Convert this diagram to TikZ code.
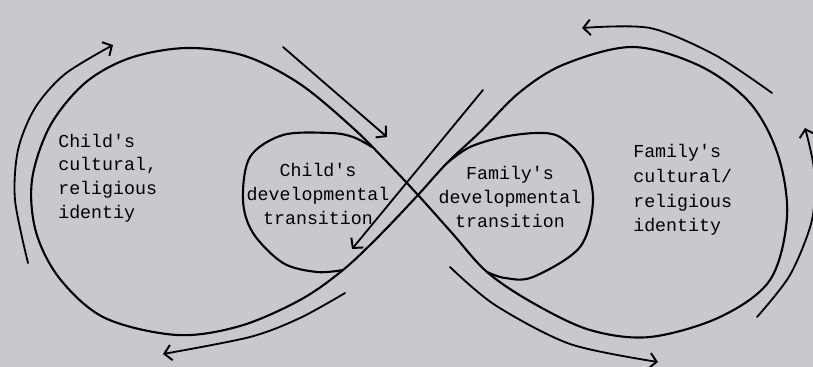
\documentclass[tikz,border=0pt]{standalone}
\usepackage{fontspec}
\newfontfamily\dotfont{Liberation Mono}
\usetikzlibrary{arrows.meta}

\definecolor{paper}{RGB}{201,200,206}

\begin{document}
\begin{tikzpicture}[
    x=0.025cm, y=-0.025cm,
    eightline/.style={
        line width=1.5pt, line join=round, line cap=round
    },
    arr/.style={
        -{Straight Barb[length=5pt,width=11pt,line width=1.4pt]},
        line width=1.3pt, line cap=round
    },
    idtext/.style={
        font=\dotfont\fontsize{13}{16.8}\selectfont,
        inner sep=0pt
    },
]

% Background
\fill[paper] (0,0) rectangle (813,367);
\clip (0,0) rectangle (813,367);

\coordinate (cross) at (418,195);
\coordinate (splitL) at (372,147);
\coordinate (joinL) at (343,270);
\coordinate (splitR) at (447,163);
\coordinate (joinR) at (487,272);

% OUTER FIGURE EIGHT
\draw[eightline] plot[smooth cycle, tension=0.55] coordinates {
    (cross) (387,162) (353,128) (300,84) (245,56) (187,48) (130,58)
    (85,83) (50,126) (32,180) (36,232) (60,279) (105,318) (177,335)
    (240,326) (300,300) (joinL) (380,235)
    (cross) (splitR) (480,132) (520,92) (565,64) (633,47) (700,66)
    (750,103) (778,155) (787,217) (770,280) (720,317) (650,337)
    (590,330) (533,303) (joinR) (452,233)};

% INNER LOOPS
\draw[eightline] plot[smooth, tension=0.55] coordinates {
    (splitL) (353,137) (330,133) (283,135) (250,157) (243,200)
    (253,233) (283,263) (317,272) (joinL)};
\draw[eightline] plot[smooth, tension=0.55] coordinates {
    (splitR) (470,147) (503,137) (537,133) (560,137) (583,160)
    (593,200) (580,247) (533,277) (505,278) (joinR)};

% TEXT
\node[idtext, anchor=west, align=left] (childid) at (58,178)
    {Child's\\cultural,\\religious\\identiy};
\node[idtext, align=center] (childdev) at (318,194)
    {Child's\\developmental\\transition};
\node[idtext, align=center] (famdev) at (510,197)
    {Family's\\developmental\\transition};
\node[idtext, anchor=west, align=left, font=\dotfont\fontsize{13}{17.6}\selectfont]
    (famid) at (633,190) {Family's\\cultural/\\religious\\identity};

% ARROWS
\coordinate (a1s) at (28,263);  \coordinate (a1e) at (113,45);
\coordinate (a2s) at (283,47);  \coordinate (a2e) at (387,137);
\coordinate (a3s) at (483,90);  \coordinate (a3e) at (352,249);
\coordinate (a4s) at (345,293); \coordinate (a4e) at (163,354);
\coordinate (a5s) at (772,93);  \coordinate (a5e) at (582,28);
\coordinate (a6s) at (450,267); \coordinate (a6e) at (658,362);
\coordinate (a7s) at (757,317); \coordinate (a7e) at (805,128);

\draw[arr] plot[smooth] coordinates {(a1s) (15,200) (18,150) (35,108) (65,74) (a1e)};
\draw[arr] (a2s) -- (a2e);
\draw[arr] (a3s) -- (a3e);
\draw[arr] plot[smooth] coordinates {(a4s) (300,318) (250,337) (a4e)};
\draw[arr] plot[smooth] coordinates {(a5s) (715,55) (650,28) (a5e)};
\draw[arr] plot[smooth] coordinates {(a6s) (495,305) (570,344) (a6e)};
\draw[arr] plot[smooth] coordinates {(a7s) (790,275) (812,220) (814,170) (a7e)};

\end{tikzpicture}
\end{document}
